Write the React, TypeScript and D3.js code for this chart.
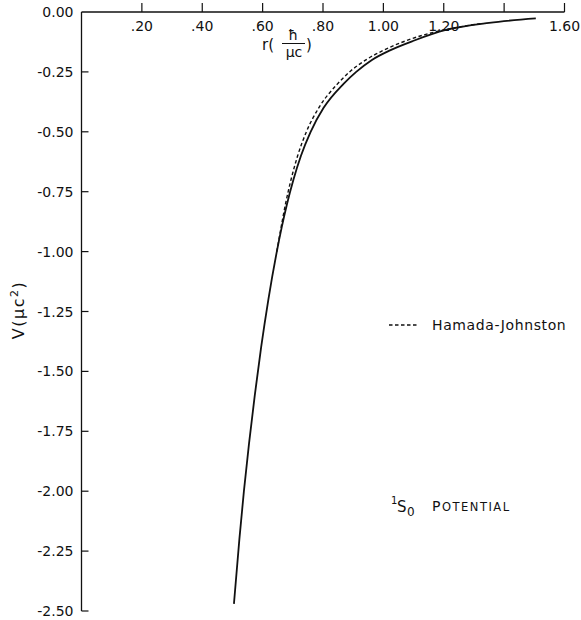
import React from "react";
import * as d3 from "d3";

// Solid curve (present work)
const solidR = [0.505, 0.523, 0.538, 0.555, 0.574, 0.595, 0.619, 0.647, 0.663, 0.681, 0.702, 0.727, 0.759, 0.802, 0.868, 0.91, 0.962, 1.022, 1.1, 1.207, 1.35, 1.505];
const solidV = [-2.47, -2.2, -2.0, -1.8, -1.6, -1.4, -1.2, -1.0, -0.9, -0.8, -0.7, -0.6, -0.5, -0.4, -0.3, -0.25, -0.2, -0.16, -0.12, -0.075, -0.045, -0.027];

// Hamada-Johnston (dashed)
const hjR = [0.647, 0.661, 0.676, 0.694, 0.716, 0.745, 0.786, 0.848, 0.888, 0.942, 1.0, 1.075, 1.15, 1.2, 1.33];
const hjV = [-1.0, -0.9, -0.8, -0.7, -0.6, -0.5, -0.4, -0.3, -0.25, -0.2, -0.16, -0.12, -0.09, -0.075, -0.047];

const xTicks = [0.2, 0.4, 0.6, 0.8, 1.0, 1.2, 1.4, 1.6];
const xTickLabels = [".20", ".40", ".60", ".80", "1.00", "1.20", "", "1.60"];
const yTicks = [0, -0.25, -0.5, -0.75, -1.0, -1.25, -1.5, -1.75, -2.0, -2.25, -2.5];
const yTickLabels = ["0.00", "-0.25", "-0.50", "-0.75", "-1.00", "-1.25", "-1.50", "-1.75", "-2.00", "-2.25", "-2.50"];

const FONT = "DejaVu Sans, sans-serif";
const INK = "#111";

export default function App() {
  const x = d3.scaleLinear().domain([0, 1.6]).range([81.5, 564.5]);
  const y = d3.scaleLinear().domain([0, -2.5]).range([12, 611]);

  const line = d3
    .line<[number, number]>()
    .x((d) => x(d[0]))
    .y((d) => y(d[1]))
    .curve(d3.curveMonotoneX);

  const solidPts = solidR.map((r, i) => [r, solidV[i]] as [number, number]);
  const hjPts = hjR.map((r, i) => [r, hjV[i]] as [number, number]);

  return (
    <svg
      width={581}
      height={620}
      style={{ position: "absolute", left: 0, top: 0, background: "#fff" }}
      fontFamily={FONT}
    >
      <rect x={0} y={0} width={581} height={620} fill="#fff" />
      {/* top axis */}
      <line x1={x(0)} x2={x(1.6)} y1={y(0)} y2={y(0)} stroke={INK} strokeWidth={1.3} />
      {xTicks.map((t, i) => (
        <g key={"xt" + i}>
          <line x1={x(t)} x2={x(t)} y1={y(0)} y2={y(0) - 9} stroke={INK} strokeWidth={1.2} />
          <text x={x(t)} y={y(0) + 19} fontSize={14} textAnchor="middle" fill={INK}>
            {xTickLabels[i]}
          </text>
        </g>
      ))}
      {/* left axis */}
      <line x1={x(0)} x2={x(0)} y1={y(0)} y2={y(-2.5)} stroke={INK} strokeWidth={1.3} />
      {yTicks.map((t, i) => (
        <g key={"yt" + i}>
          {i > 0 && (
            <line x1={x(0)} x2={x(0) + 7} y1={y(t)} y2={y(t)} stroke={INK} strokeWidth={1.2} />
          )}
          <text x={x(0) - 8} y={y(t) + 5} fontSize={14} textAnchor="end" fill={INK}>
            {yTickLabels[i]}
          </text>
        </g>
      ))}
      {/* x axis label r(ħ/μc) */}
      <g fill={INK}>
        <text x={262} y={50} fontSize={15}>r(</text>
        <text x={293} y={40} fontSize={14} textAnchor="middle">ħ</text>
        <line x1={282} x2={305} y1={43.5} y2={43.5} stroke={INK} strokeWidth={1} />
        <text x={294} y={57} fontSize={14} textAnchor="middle">μc</text>
        <text x={306} y={50} fontSize={15}>)</text>
      </g>
      {/* y axis label */}
      <text
        transform={`translate(24,310) rotate(-90)`}
        fontSize={16}
        textAnchor="middle"
        fill={INK}
        letterSpacing={1.5}
      >
        V(μc<tspan dy={-6} fontSize={11}>2</tspan>
        <tspan dy={6}>)</tspan>
      </text>
      {/* curves */}
      <path d={line(hjPts) || ""} fill="none" stroke={INK} strokeWidth={1.4} strokeDasharray="3.5,2.5" />
      <path d={line(solidPts) || ""} fill="none" stroke={INK} strokeWidth={1.8} />
      {/* legend */}
      <line x1={389} x2={418} y1={325} y2={325} stroke={INK} strokeWidth={1.4} strokeDasharray="3.5,2.5" />
      <text x={432} y={330} fontSize={14} fill={INK} letterSpacing={0.6}>
        Hamada-Johnston
      </text>
      {/* annotation */}
      <text x={391} y={504} fontSize={10} fill={INK}>1</text>
      <text x={397} y={512} fontSize={15} fill={INK}>S</text>
      <text x={407} y={516} fontSize={12} fill={INK}>0</text>
      <text x={432} y={511} fill={INK} letterSpacing={1.5}>
        <tspan fontSize={14}>P</tspan>
        <tspan fontSize={11.5}>OTENTIAL</tspan>
      </text>
    </svg>
  );
}
